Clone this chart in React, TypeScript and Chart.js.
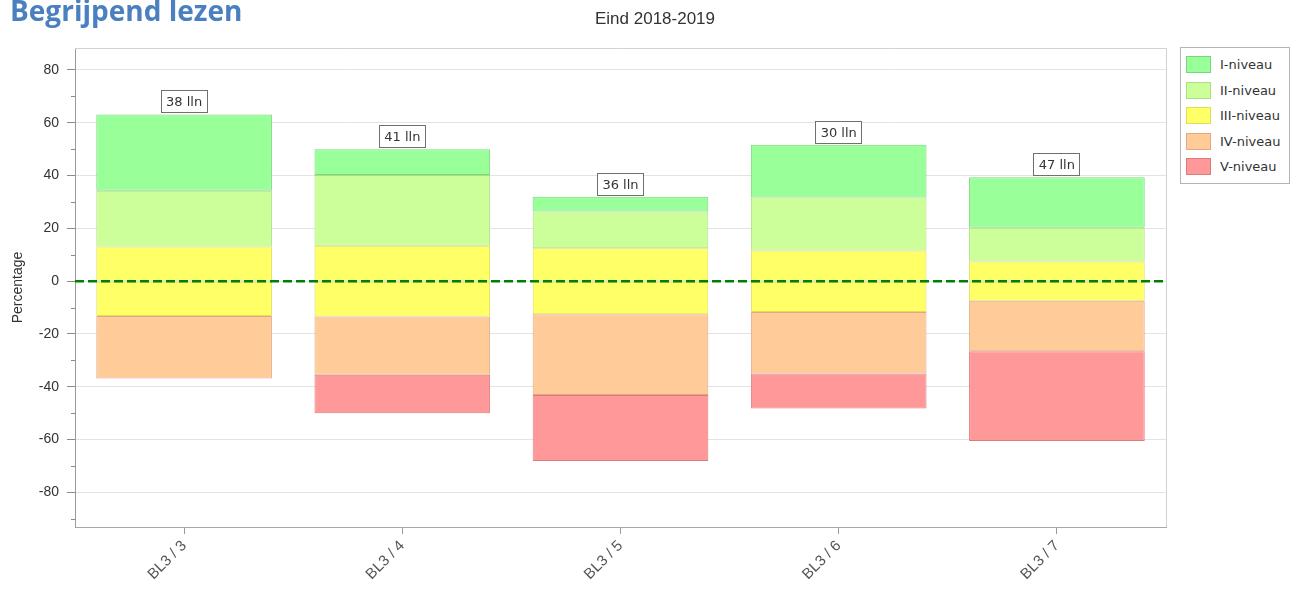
import React, { useEffect, useRef } from 'react';
import { Chart, registerables } from 'chart.js';

Chart.register(...registerables);

// ---- data ----
const categories = ['BL3 / 3', 'BL3 / 4', 'BL3 / 5', 'BL3 / 6', 'BL3 / 7'];
const studentCounts = [38, 41, 36, 30, 47];
const levelI = [28.9, 9.8, 5.6, 20.0, 19.1];
const levelII = [21.1, 26.8, 13.9, 20.0, 12.8];
const levelIII = [26.3, 26.8, 25.0, 23.3, 14.9];
const levelIV = [23.7, 22.0, 30.6, 23.3, 19.1];
const levelV = [0, 14.6, 25.0, 13.3, 34.0];
const levelNames = ['I-niveau', 'II-niveau', 'III-niveau', 'IV-niveau', 'V-niveau'];
const yTickValues = [-80, -60, -40, -20, 0, 20, 40, 60, 80];
const yMinorTickValues = [-90, -70, -50, -30, -10, 10, 30, 50, 70];
const yMin = -93.1;
const yMax = 88.3;
const chartTitle = 'Eind 2018-2019';
const pageTitle = 'Begrijpend lezen';
const yAxisTitle = 'Percentage';
const countSuffix = ' lln';

// ---- styles ----
const fills = ['#99ff99', '#ccff99', '#ffff66', '#ffcc99', '#ff9999'];
const borders = ['#7ad67a', '#addf80', '#dede58', '#e3a882', '#dd7a7a'];
const AXIS_FONT = "'Liberation Sans', Arial, sans-serif";
const LABEL_FONT = "'DejaVu Sans', Verdana, sans-serif";

const overlayPlugin = {
  id: 'overlay',
  afterDatasetsDraw(chart: any) {
    const { ctx, chartArea: a, scales } = chart;
    const y = scales.y;
    ctx.save();
    // top / right plot border
    ctx.strokeStyle = '#d2d2d2';
    ctx.lineWidth = 1;
    ctx.beginPath();
    ctx.moveTo(a.left, Math.round(a.top) + 0.5);
    ctx.lineTo(Math.round(a.right) + 0.5, Math.round(a.top) + 0.5);
    ctx.lineTo(Math.round(a.right) + 0.5, a.bottom);
    ctx.stroke();
    // minor ticks
    ctx.strokeStyle = '#8a8a8a';
    yMinorTickValues.forEach((v) => {
      const py = Math.round(y.getPixelForValue(v)) + 0.5;
      if (py < a.top || py > a.bottom) return;
      ctx.beginPath();
      ctx.moveTo(a.left - 4, py);
      ctx.lineTo(a.left, py);
      ctx.stroke();
    });
    // zero line
    const y0 = y.getPixelForValue(0);
    ctx.setLineDash([9, 4]);
    ctx.strokeStyle = '#008000';
    ctx.lineWidth = 2.5;
    ctx.beginPath();
    ctx.moveTo(a.left, y0);
    ctx.lineTo(a.right, y0);
    ctx.stroke();
    ctx.setLineDash([]);
    // count boxes
    const meta = chart.getDatasetMeta(2);
    ctx.font = `13px ${LABEL_FONT}`;
    ctx.textAlign = 'center';
    ctx.textBaseline = 'middle';
    meta.data.forEach((el: any, i: number) => {
      const text = `${studentCounts[i]}${countSuffix}`;
      const w = Math.round(ctx.measureText(text).width + 11);
      const h = 23;
      const bottom = Math.round(el.y) - 1;
      const left = Math.round(el.x - w / 2);
      ctx.fillStyle = '#ffffff';
      ctx.fillRect(left, bottom - h, w, h);
      ctx.strokeStyle = '#707070';
      ctx.lineWidth = 1;
      ctx.strokeRect(left + 0.5, bottom - h + 0.5, w - 1, h - 1);
      ctx.fillStyle = '#333333';
      ctx.fillText(text, el.x, bottom - h / 2 + 1);
    });
    ctx.restore();
  },
};

function barSet(label: string, data: number[], idx: number) {
  return {
    label,
    data,
    backgroundColor: fills[idx],
    borderColor: borders[idx],
    borderWidth: 1,
    borderSkipped: false,
    barPercentage: 0.805,
    categoryPercentage: 1,
  };
}

export default function App() {
  const ref = useRef<HTMLCanvasElement>(null);

  useEffect(() => {
    const halfIII = levelIII.map((v) => v / 2);
    const chart = new Chart(ref.current as HTMLCanvasElement, {
      type: 'bar',
      data: {
        labels: categories,
        datasets: [
          barSet(levelNames[2], halfIII, 2),
          barSet(levelNames[1], levelII, 1),
          barSet(levelNames[0], levelI, 0),
          barSet(levelNames[2], halfIII.map((v) => -v), 2),
          barSet(levelNames[3], levelIV.map((v) => -v), 3),
          barSet(levelNames[4], levelV.map((v) => -v), 4),
        ] as any,
      },
      options: {
        responsive: false,
        animation: false,
        layout: { padding: { left: 10, right: 0, top: 0, bottom: 0 } },
        plugins: {
          legend: { display: false },
          tooltip: { enabled: false },
          title: {
            display: true,
            text: chartTitle,
            color: '#333333',
            font: { family: AXIS_FONT, size: 17, weight: 'normal' },
            padding: { top: 9, bottom: 18.6 },
          },
        },
        scales: {
          x: {
            stacked: true,
            grid: {
              display: true,
              drawOnChartArea: false,
              drawTicks: true,
              tickLength: 7,
              offset: false,
              tickColor: '#9a9a9a',
            },
            border: { color: '#a8a8a8' },
            ticks: {
              autoSkip: false,
              minRotation: 45,
              maxRotation: 45,
              color: '#555555',
              padding: 3,
              font: { family: AXIS_FONT, size: 15 },
            },
            afterFit: (s: any) => {
              s.height = 63;
            },
          },
          y: {
            stacked: true,
            min: yMin,
            max: yMax,
            afterBuildTicks: (s: any) => {
              s.ticks = yTickValues.map((v) => ({ value: v }));
            },
            grid: { color: '#e3e3e3', tickLength: 8, tickColor: '#8a8a8a' },
            border: { color: '#9a9a9a' },
            ticks: {
              color: '#333333',
              padding: 8,
              font: { family: AXIS_FONT, size: 14 },
            },
            title: {
              display: true,
              text: yAxisTitle,
              color: '#333333',
              font: { family: AXIS_FONT, size: 14 },
              padding: { top: 0, bottom: 0 },
            },
            afterFit: (s: any) => {
              s.width = 65;
            },
          },
          yRight: {
            type: 'linear',
            position: 'right',
            display: true,
            grid: { display: false, drawTicks: false },
            ticks: { display: false },
            border: { display: false },
            afterFit: (s: any) => {
              s.width = 134;
            },
          },
        },
      } as any,
      plugins: [overlayPlugin],
    });
    return () => chart.destroy();
  }, []);

  return (
    <div
      style={{
        position: 'absolute',
        left: 0,
        top: 0,
        width: 1300,
        height: 590,
        overflow: 'hidden',
        background: '#ffffff',
      }}
    >
      <canvas
        ref={ref}
        width={1300}
        height={590}
        style={{ position: 'absolute', left: 0, top: 0, width: 1300, height: 590 }}
      />
      <div
        style={{
          position: 'absolute',
          left: 10,
          top: -4,
          font: "bold 28px 'Open Sans', sans-serif",
          lineHeight: '28px',
          color: '#4a7fc0',
          whiteSpace: 'nowrap',
        }}
      >
        {pageTitle}
      </div>
      <div
        style={{
          position: 'absolute',
          left: 1180,
          top: 47,
          width: 110,
          height: 137,
          boxSizing: 'border-box',
          border: '1px solid #b4b4b4',
          background: '#ffffff',
        }}
      >
        {levelNames.map((n, i) => (
          <div
            key={n}
            style={{
              position: 'absolute',
              left: 5,
              top: 8 + i * 25.5,
              height: 17,
              display: 'flex',
              alignItems: 'center',
              whiteSpace: 'nowrap',
            }}
          >
            <span
              style={{
                display: 'inline-block',
                width: 25,
                height: 17,
                boxSizing: 'border-box',
                background: fills[i],
                border: `1px solid ${borders[i]}`,
              }}
            />
            <span style={{ marginLeft: 9, font: `13px ${LABEL_FONT}`, color: '#333333' }}>{n}</span>
          </div>
        ))}
      </div>
    </div>
  );
}
